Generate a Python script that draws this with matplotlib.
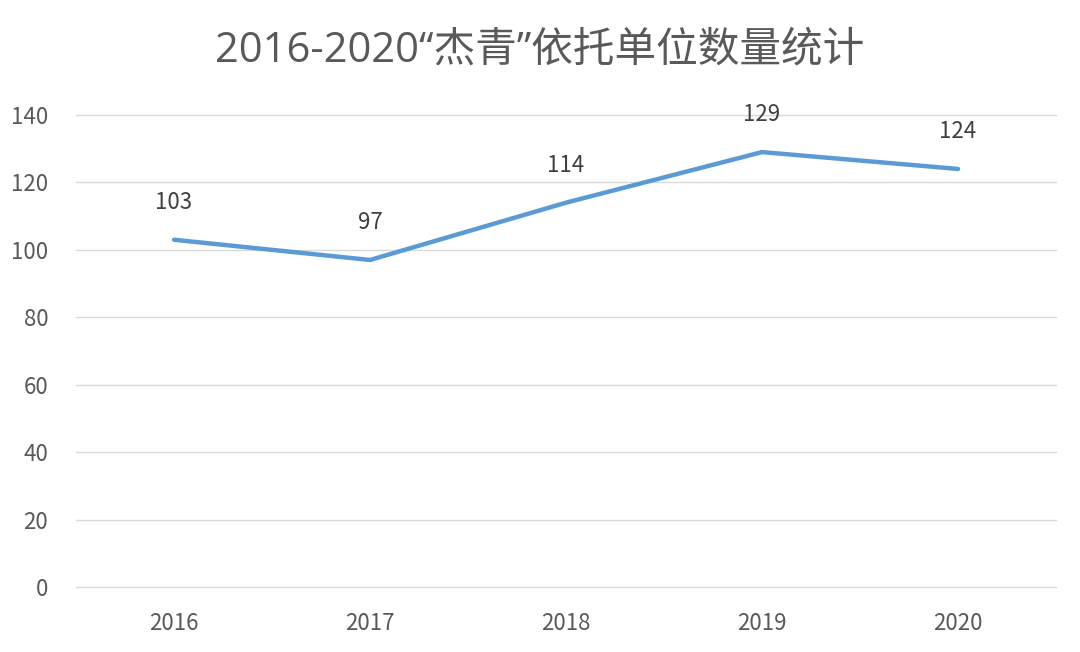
import matplotlib
matplotlib.use("Agg")
import matplotlib.pyplot as plt

plt.rcParams['font.family'] = ['Noto Sans CJK SC', 'DejaVu Sans']

years = ["2016", "2017", "2018", "2019", "2020"]
counts = [103, 97, 114, 129, 124]
y_ticks = [0, 20, 40, 60, 80, 100, 120, 140]

fig = plt.figure(figsize=(10.8, 6.52), dpi=100)
ax = fig.add_axes([0.0704, 0.0997, 0.9074, 0.7239])

x = list(range(len(years)))
ax.plot(x, counts, color="#5b9bd5", linewidth=3.2, solid_capstyle="round", zorder=3)

for xi, v in zip(x, counts):
    ax.annotate(str(v), (xi, v), xytext=(0, 27), textcoords="offset points",
                ha="center", va="center", fontsize=16, color="#404040")

ax.set_xlim(-0.5, len(years) - 0.5)
ax.set_ylim(0, 140)
ax.set_yticks(y_ticks)
ax.set_xticks(x)
ax.set_xticklabels(years)
ax.grid(axis="y", color="#d9d9d9", linewidth=1)
for gl in ax.get_ygridlines():
    gl.set_clip_on(False)
ax.set_axisbelow(True)
for s in ax.spines.values():
    s.set_visible(False)
ax.tick_params(length=0, labelsize=16, labelcolor="#595959")
ax.tick_params(axis="y", pad=20)
ax.tick_params(axis="x", pad=18)

fig.text(0.5, 0.922, "2016-2020“杰青”依托单位数量统计", ha="center", va="center",
         fontsize=30, color="#595959", family=['Open Sans', 'Noto Sans CJK SC'])

fig.savefig("out.png", dpi=100, facecolor="white")
